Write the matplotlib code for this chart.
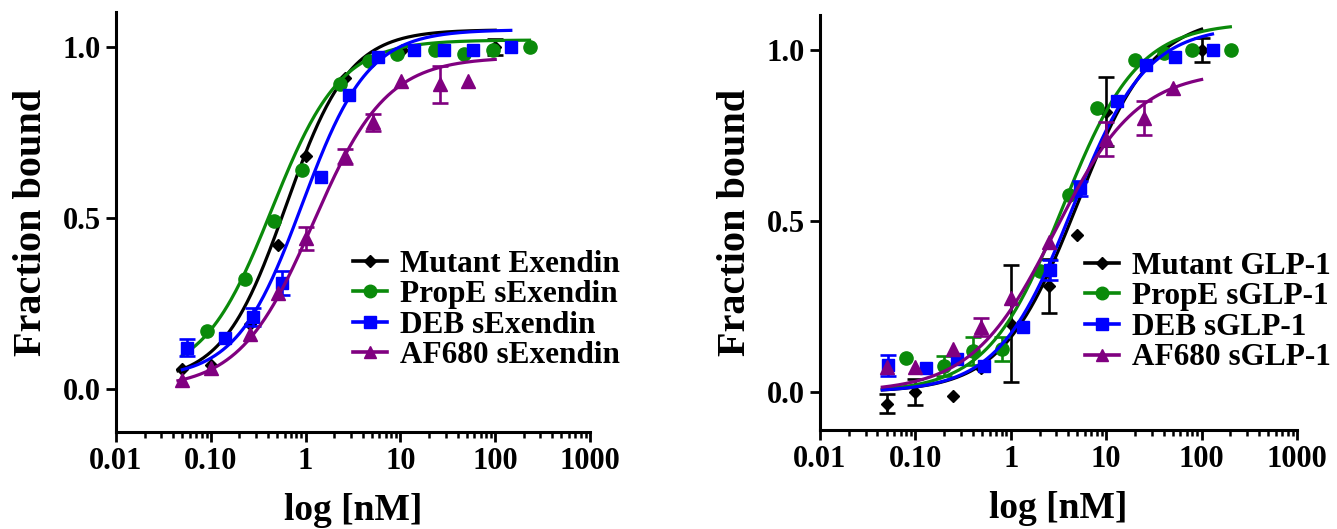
import matplotlib
matplotlib.use("Agg")
import matplotlib.pyplot as plt
import numpy as np
import matplotlib.ticker as ticker

plt.rcParams['font.family'] = ['Liberation Serif', 'DejaVu Serif']
plt.rcParams['font.weight'] = 'bold'

colors = ['#000000', '#0a8a0a', '#0000ff', '#800080']
markers = ['D', 'o', 's', '^']
msizes = [6.5, 9.5, 8.5, 9.5]

xtick_vals = [0.01, 0.1, 1, 10, 100, 1000]
xtick_text = ['0.01', '0.10', '1', '10', '100', '1000']

# ---------- Exendin ----------
ex_labels = ['Mutant Exendin', 'PropE sExendin', 'DEB sExendin', 'AF680 sExendin']

mut_ex_x = [0.05, 0.10, 0.26, 0.51, 1.0, 2.6, 10.4, 100]
mut_ex_y = [0.058, 0.07, 0.19, 0.42, 0.68, 0.91, 0.99, 1.0]
mut_ex_e = [0, 0, 0, 0, 0, 0, 0, 0.023]

prop_ex_x = [0.09, 0.23, 0.46, 0.91, 2.3, 4.7, 9.1, 23, 47, 94, 233]
prop_ex_y = [0.17, 0.32, 0.49, 0.64, 0.89, 0.96, 0.98, 0.99, 0.98, 0.99, 1.0]
prop_ex_e = [0] * 11

deb_ex_x = [0.056, 0.14, 0.28, 0.56, 1.45, 2.9, 5.8, 14, 29, 58, 146]
deb_ex_y = [0.12, 0.15, 0.21, 0.31, 0.62, 0.86, 0.97, 0.99, 0.99, 0.99, 1.0]
deb_ex_e = [0.025, 0, 0.027, 0.035, 0, 0, 0, 0, 0, 0, 0]

af_ex_x = [0.05, 0.10, 0.26, 0.51, 1.0, 2.6, 5.1, 10.2, 26, 52]
af_ex_y = [0.025, 0.06, 0.16, 0.28, 0.44, 0.68, 0.78, 0.90, 0.89, 0.90]
af_ex_e = [0, 0, 0, 0, 0.034, 0.022, 0.025, 0, 0.055, 0]

# 4PL fit params: bottom, top, EC50, hill, x range
ex_fit = [
    (0.02, 1.05, 0.62, 1.3, 0.045, 100),
    (0.03, 1.02, 0.44, 1.2, 0.05, 230),
    (0.03, 1.05, 0.92, 1.25, 0.05, 146),
    (0.00, 0.97, 1.2, 1.12, 0.045, 100),
]

# ---------- GLP-1 ----------
glp_labels = ['Mutant GLP-1', 'PropE sGLP-1', 'DEB sGLP-1', 'AF680 sGLP-1']

mut_glp_x = [0.05, 0.10, 0.25, 0.49, 1.0, 2.5, 4.9, 10, 100]
mut_glp_y = [-0.034, 0.0, -0.012, 0.07, 0.20, 0.31, 0.46, 0.82, 1.0]
mut_glp_e = [0.027, 0.037, 0, 0, 0.17, 0.08, 0, 0.1, 0.035]

prop_glp_x = [0.08, 0.2, 0.4, 0.8, 2.0, 4.1, 8.1, 20, 40, 80, 203]
prop_glp_y = [0.10, 0.076, 0.12, 0.125, 0.355, 0.576, 0.83, 0.97, 0.99, 1.0, 1.0]
prop_glp_e = [0, 0.03, 0.04, 0.035, 0, 0, 0, 0, 0, 0, 0]

deb_glp_x = [0.052, 0.13, 0.27, 0.53, 1.33, 2.6, 5.3, 13, 26, 52, 131]
deb_glp_y = [0.078, 0.07, 0.097, 0.076, 0.19, 0.357, 0.595, 0.85, 0.956, 0.98, 1.0]
deb_glp_e = [0.03, 0, 0, 0, 0, 0.03, 0.022, 0, 0, 0, 0]

af_glp_x = [0.05, 0.10, 0.25, 0.49, 1.0, 2.5, 10, 25, 50]
af_glp_y = [0.073, 0.073, 0.126, 0.19, 0.275, 0.44, 0.74, 0.80, 0.89]
af_glp_e = [0, 0, 0, 0.025, 0, 0, 0.05, 0.05, 0]

glp_fit = [
    (0.0, 1.10, 5.0, 1.1, 0.045, 100),
    (0.0, 1.08, 3.5, 1.1, 0.045, 200),
    (0.0, 1.07, 4.4, 1.12, 0.045, 130),
    (0.0, 0.94, 2.9, 1.0, 0.045, 100),
]

ex_data = [(mut_ex_x, mut_ex_y, mut_ex_e), (prop_ex_x, prop_ex_y, prop_ex_e),
           (deb_ex_x, deb_ex_y, deb_ex_e), (af_ex_x, af_ex_y, af_ex_e)]
glp_data = [(mut_glp_x, mut_glp_y, mut_glp_e), (prop_glp_x, prop_glp_y, prop_glp_e),
            (deb_glp_x, deb_glp_y, deb_glp_e), (af_glp_x, af_glp_y, af_glp_e)]


def hill(x, bottom, top, ec50, h):
    return bottom + (top - bottom) / (1 + (ec50 / x) ** h)


def panel(ax, data, fits, labels, ylim, leg_anchor):
    handles = []
    for i in range(4):
        x, y, e = data[i]
        b, t, ec, h, x0, x1 = fits[i]
        xs = np.logspace(np.log10(x0), np.log10(x1), 300)
        ax.plot(xs, hill(xs, b, t, ec, h), color=colors[i], lw=2.3, zorder=2 + i)
        e = np.array(e, dtype=float)
        ax.errorbar(x, y, yerr=np.where(e > 0, e, np.nan), fmt='none',
                    ecolor=colors[i], elinewidth=1.9, capsize=5.5, capthick=1.9, zorder=2 + i)
        ax.plot(x, y, ls='none', marker=markers[i], ms=msizes[i], color=colors[i],
                mec=colors[i], zorder=3 + i)
        handles.append(plt.Line2D([], [], color=colors[i], lw=2.6, marker=markers[i],
                                  ms=msizes[i] * 0.95))

    ax.set_xscale('log')
    ax.set_xlim(0.01, 1000)
    ax.set_ylim(*ylim)
    ax.xaxis.set_major_locator(ticker.FixedLocator(xtick_vals))
    ax.xaxis.set_major_formatter(ticker.FixedFormatter(xtick_text))
    ax.xaxis.set_minor_locator(ticker.LogLocator(base=10, subs=np.arange(2, 10)))
    ax.xaxis.set_minor_formatter(ticker.NullFormatter())
    ax.set_yticks([0.0, 0.5, 1.0])
    ax.set_yticklabels(['0.0', '0.5', '1.0'])
    for s in ['top', 'right']:
        ax.spines[s].set_visible(False)
    for s in ['left', 'bottom']:
        ax.spines[s].set_linewidth(2.2)
    ax.tick_params(axis='both', which='major', direction='out', length=7, width=2.0,
                   labelsize=22, pad=4)
    ax.tick_params(axis='x', which='minor', direction='out', length=4.5, width=1.8)
    for lab in ax.get_xticklabels() + ax.get_yticklabels():
        lab.set_fontweight('bold')
    ax.set_ylabel('Fraction bound', fontsize=29, fontweight='bold', labelpad=9)
    ax.set_xlabel('log [nM]', fontsize=27, fontweight='bold', labelpad=12)

    fig.legend(handles, labels, loc='upper left', bbox_to_anchor=leg_anchor,
               bbox_transform=fig.transFigure, frameon=False, borderpad=0,
               borderaxespad=0, handlelength=1.1, handletextpad=0.42,
               labelspacing=0.05, prop={'size': 22.5, 'weight': 'bold'})


fig = plt.figure(figsize=(13.37, 5.29), dpi=100)
ax1 = fig.add_axes([0.0868, 0.1834, 0.3545, 0.794])
ax2 = fig.add_axes([0.6133, 0.1871, 0.3568, 0.7845])

panel(ax1, ex_data, ex_fit, ex_labels, (-0.126, 1.102), (0.264, 0.528))
panel(ax2, glp_data, glp_fit, glp_labels, (-0.111, 1.102), (0.8115, 0.524))

fig.savefig('out.png', dpi=100)
